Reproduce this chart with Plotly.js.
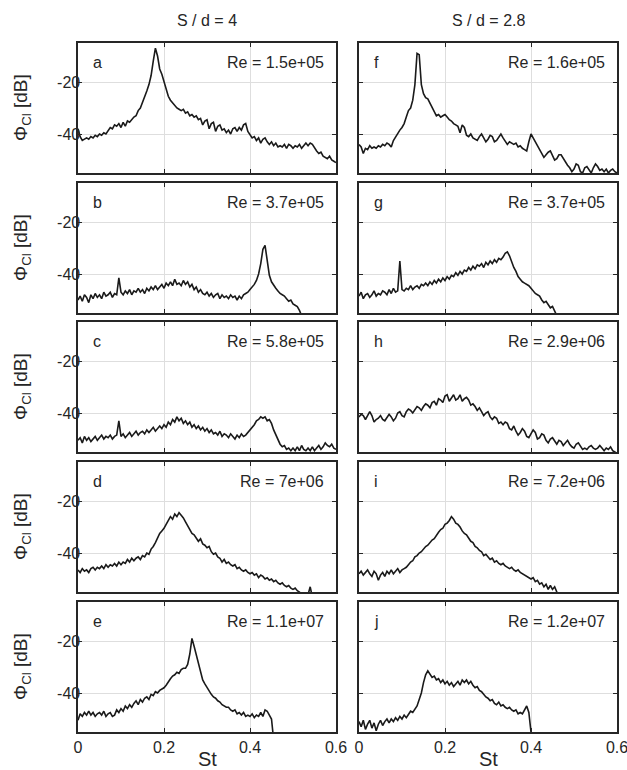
<!DOCTYPE html>
<html>
<head>
<meta charset="utf-8">
<script src="https://cdn.plot.ly/plotly-3.0.1.min.js"></script>
<style>html,body{margin:0;padding:0;background:#fff;}#chart{width:627px;height:770px;}</style>
</head>
<body>
<div id="chart"></div>
<script>
// ---------- DATA ----------
const St = [
 0,0.005,0.01,0.015,0.02,0.025,0.03,0.035,0.04,0.045,
 0.05,0.055,0.06,0.065,0.07,0.075,0.08,0.085,0.09,0.095,
 0.1,0.105,0.11,0.115,0.12,0.125,0.13,0.135,0.14,0.145,
 0.15,0.155,0.16,0.165,0.17,0.175,0.18,0.185,0.19,0.195,
 0.2,0.205,0.21,0.215,0.22,0.225,0.23,0.235,0.24,0.245,
 0.25,0.255,0.26,0.265,0.27,0.275,0.28,0.285,0.29,0.295,
 0.3,0.305,0.31,0.315,0.32,0.325,0.33,0.335,0.34,0.345,
 0.35,0.355,0.36,0.365,0.37,0.375,0.38,0.385,0.39,0.395,
 0.4,0.405,0.41,0.415,0.42,0.425,0.43,0.435,0.44,0.445,
 0.45,0.455,0.46,0.465,0.47,0.475,0.48,0.485,0.49,0.495,
 0.5,0.505,0.51,0.515,0.52,0.525,0.53,0.535,0.54,0.545,
 0.55,0.555,0.56,0.565,0.57,0.575,0.58,0.585,0.59,0.595,0.6
];

// S/d = 4
const phiA = [
 -38,-41,-42.5,-42,-41.5,-42,-41,-41.5,-40.5,-41,
 -40,-40.5,-39.5,-40,-38.5,-37.5,-38,-36.5,-37,-36,
 -37.5,-35.5,-37,-35,-35.5,-34.5,-33.5,-33,-31,-30,
 -28,-25.5,-23.5,-21,-17.5,-12,-7,-10,-15,-17,
 -20,-23,-25.5,-27,-28,-29,-30,-30.5,-31,-30.5,
 -32,-31.5,-33,-32.5,-33.5,-33,-34.5,-34,-36.5,-35,
 -34.5,-38,-36,-35.5,-39,-37,-36.5,-38.5,-38,-39.5,
 -38.5,-40,-38,-37.5,-39,-37.5,-38.5,-36.5,-36,-39,
 -40.5,-41.5,-41,-42.5,-41.5,-43.5,-42,-41.5,-43,-44,
 -43,-44.5,-43.5,-45,-44.5,-45,-44,-45.5,-44,-44.5,
 -45.5,-44.5,-45,-44,-45.5,-44.5,-43.5,-44.5,-43.5,-44,
 -45.5,-46.5,-47.5,-47,-48.5,-49,-49.5,-48.5,-50,-50.5,-51
];
const phiB = [
 -50,-48.5,-50.5,-48,-49,-51,-48,-49.5,-47.5,-49,
 -48,-49.5,-47,-48.5,-48,-47,-49,-47.5,-48,-41.5,
 -47,-48,-46.5,-47.5,-46,-48,-46.5,-47,-45.5,-47,
 -46,-47.5,-45.5,-46.5,-45,-46,-44.5,-46,-45,-44,
 -45.5,-43.5,-44.5,-43,-44.5,-42,-44,-43.5,-44.5,-42.5,
 -44,-43,-45,-44,-46,-45,-47,-46,-47.5,-48,
 -47,-48.5,-47.5,-49,-48,-47.5,-49.5,-48,-49,-48.5,
 -49.5,-48,-49,-48.5,-50,-48.5,-49.5,-48,-47.5,-47,
 -46,-45,-44,-42.5,-40,-36,-30.5,-29,-35,-40.5,
 -43,-44.5,-45.5,-46.5,-47.5,-48,-48.5,-49.5,-50.5,-50,
 -51.5,-52,-52.5,-54,-56
];
const phiC = [
 -50.5,-49.5,-51.5,-49,-50.5,-49.5,-51,-50,-49,-50.5,
 -49.5,-48.5,-50,-49,-49.5,-48.5,-50,-49,-48.5,-43,
 -49,-48,-49.5,-48.5,-47.5,-49,-48,-47,-48.5,-47.5,
 -47,-48,-46.5,-47.5,-46.5,-45.5,-47,-46,-45,-46,
 -44.5,-45.5,-43.5,-44.5,-42.5,-43.5,-41.5,-43,-42,-44,
 -43,-44.5,-43.5,-45.5,-44.5,-46,-45,-46.5,-45.5,-47,
 -46,-47.5,-46.5,-48,-47.5,-48.5,-47,-49,-48,-48.5,
 -49.5,-48,-49,-50,-48.5,-49.5,-48,-49,-48.5,-47.5,
 -46.5,-45.5,-44.5,-43,-42.5,-41.5,-42,-41.5,-43,-42.5,
 -44,-46.5,-48.5,-50,-52,-53,-52.5,-54,-53.5,-54.5,
 -53.5,-54.5,-53,-54.5,-52.5,-54,-54.5,-53.5,-54.5,-53,
 -54.5,-53.5,-52.5,-54,-53,-51.5,-52.5,-53,-52,-53.5,-54
];
const phiD = [
 -46.5,-47.5,-46,-47,-46.5,-47.5,-46,-45.5,-46.5,-45.5,
 -46,-45,-46,-44.5,-45.5,-44.5,-45,-44,-45,-43.5,
 -44.5,-43.5,-44,-42.5,-43.5,-42,-43,-42,-41.5,-42.5,
 -41,-41.5,-40,-40.5,-38.5,-37.5,-36,-34,-32.5,-31.5,
 -30.5,-29,-27.5,-26,-27,-25,-26,-24.5,-25.5,-26.5,
 -28,-29.5,-31,-32.5,-33,-34.5,-35.5,-34.5,-36.5,-37,
 -38,-37.5,-39.5,-40.5,-40,-41.5,-42,-43.5,-42.5,-44,
 -43.5,-44.5,-45,-44.5,-46,-45.5,-46.5,-47,-46.5,-47.5,
 -48,-47.5,-48.5,-48,-49.5,-48.5,-49,-50,-49.5,-50.5,
 -50,-51,-50.5,-51.5,-52,-51.5,-52.5,-53,-52.5,-53.5,
 -54,-53.5,-54.5,-55,-56,-57,-57,-56,-53,-57
];
const phiE = [
 -50.5,-48,-49,-47.5,-48.5,-47,-48.5,-47.5,-49,-48,
 -47.5,-48.5,-47,-49,-48,-47.5,-49,-48.5,-46.5,-47.5,
 -46,-47,-45,-46,-44.5,-45.5,-44,-43,-44.5,-42.5,
 -43.5,-42,-41.5,-42.5,-40.5,-41,-39.5,-40,-39,-38.5,
 -38,-37,-35.5,-34.5,-33.5,-33,-32,-32.5,-31,-30.5,
 -30.5,-29,-25,-19,-22,-25.5,-29,-32,-35,-36.5,
 -38,-39.5,-40.5,-41.5,-42,-43,-43.5,-44.5,-45,-45.5,
 -45.5,-46.5,-47,-46.5,-48,-47.5,-48.5,-47.5,-49,-48.5,
 -49,-48,-49.5,-48.5,-49,-47.5,-49,-46.5,-47,-48.5,
 -50,-58
];

// S/d = 2.8
const phiF = [
 -44,-45,-47.5,-45.5,-46,-44.5,-45.5,-45,-45.5,-44.5,
 -45,-44,-44.5,-43.5,-44,-45,-42.5,-41,-39.5,-38.5,
 -37.5,-36,-33.5,-31,-30,-27,-21,-9,-9.5,-21,
 -24.5,-26,-26.5,-28,-29.5,-31.5,-33,-32.5,-33.5,-33,
 -32.5,-33.5,-34.5,-35,-36,-36.5,-37,-39.5,-36.5,-37.5,
 -40.5,-41,-40,-41.5,-42,-42.5,-41,-40,-41.5,-43,
 -42,-40.5,-41,-43,-42.5,-41,-40,-41.5,-43,-44,
 -43,-43.5,-44,-43.5,-45,-44.5,-45.5,-46,-46.5,-43,
 -40,-41.5,-43,-45,-46.5,-47.5,-49,-48,-47,-46.5,
 -48,-50,-49.5,-48,-48,-49.5,-51,-52,-53,-54.5,
 -53.5,-51.5,-52,-54.5,-55,-53,-52.5,-54,-55,-53,
 -51.5,-52.5,-54,-53.5,-54.5,-53.5,-55,-54,-53.5,-54.5,-55
];
const phiG = [
 -48.5,-47,-49.5,-48,-47.5,-49,-48,-46.5,-48.5,-47.5,
 -48,-46.5,-47,-48,-46,-47.5,-45.5,-47,-46.5,-35,
 -46,-46.5,-45.5,-46,-44.5,-46,-45,-44.5,-45.5,-44,
 -44.5,-43.5,-44.5,-43,-44,-42.5,-43.5,-42,-43,-41.5,
 -42.5,-41,-42,-40.5,-41,-39.5,-40.5,-39,-40,-38.5,
 -39,-37.5,-38.5,-37,-38,-36.5,-37,-36,-37.5,-35.5,
 -36.5,-35,-36,-34.5,-35.5,-34,-34.5,-33.5,-32,-31.5,
 -33,-35.5,-37.5,-39,-41,-42,-43,-43.5,-44,-44.5,
 -45.5,-46.5,-47.5,-48,-48.5,-50,-51,-50.5,-52,-53,
 -52.5,-54,-56
];
const phiH = [
 -41.5,-40.5,-41,-42.5,-41,-39.5,-41,-43.5,-42.5,-42,
 -41,-42.5,-43,-41.5,-40.5,-41.5,-43,-42,-40,-39.5,
 -41,-41.5,-39.5,-38.5,-39,-40,-38.5,-37.5,-38,-39,
 -37.5,-36.5,-37,-38,-36,-35.5,-37,-34.5,-35,-36,
 -33.5,-33,-35.5,-34,-33,-35,-34.5,-33,-35.5,-34.5,
 -34,-35,-37,-36.5,-37.5,-39,-38,-39.5,-41,-40,
 -39.5,-41.5,-42.5,-41.5,-42,-44,-43.5,-44.5,-43.5,-44,
 -46,-46.5,-45,-47,-48.5,-47.5,-46,-47,-49,-49.5,
 -48,-46.5,-47.5,-50,-49.5,-48,-48.5,-50.5,-51.5,-50,
 -49.5,-51,-52,-50.5,-51,-52.5,-51.5,-50.5,-52,-53,
 -53.5,-52,-51.5,-53,-54,-53.5,-54,-53,-52.5,-53.5,
 -54,-53.5,-52.5,-53.5,-54.5,-53.5,-54,-53,-54.5,-55,-55.5
];
const phiI = [
 -48,-47,-48.5,-47.5,-46.5,-48,-49,-47,-48,-50.5,
 -48.5,-47.5,-49,-47,-48,-46.5,-48,-47,-46,-47.5,
 -46.5,-46,-45.5,-44.5,-43.5,-43,-41.5,-41,-40,-39.5,
 -38.5,-37.5,-37,-36,-35,-34.5,-33,-32,-31,-30.5,
 -29,-28.5,-27.5,-26,-27,-28.5,-29,-30,-31.5,-32.5,
 -33,-34.5,-35.5,-36,-37.5,-38,-39,-39.5,-41,-40.5,
 -41.5,-42.5,-42,-43.5,-43,-44,-44.5,-44,-45,-45.5,
 -46,-45.5,-46.5,-47,-46.5,-47.5,-48,-48.5,-49,-49.5,
 -50,-49.5,-51,-50.5,-52,-51.5,-53,-52,-54,-52.5,
 -54,-53,-55,-57
];
const phiJ = [
 -51,-53,-50.5,-54,-52,-50.5,-53.5,-51.5,-54.5,-52,
 -50.5,-52.5,-51,-50,-51.5,-50,-51,-49.5,-50.5,-49,
 -50,-48.5,-49.5,-48,-47,-47.5,-46,-45,-42.5,-40,
 -36,-33,-31.5,-33,-34,-33.5,-35,-34.5,-36,-35,
 -36.5,-35.5,-37,-36,-37.5,-36.5,-35.5,-37,-35,-36,
 -35,-36.5,-35.5,-37,-38,-37.5,-39,-39.5,-40.5,-41.5,
 -42,-43,-42.5,-44,-44.5,-43.5,-45,-44.5,-45.5,-46,
 -45.5,-46.5,-47,-46.5,-48,-47.5,-48,-46.5,-45,-47.5,
 -55,-58
];

const panelSeries  = [phiA, phiB, phiC, phiD, phiE, phiF, phiG, phiH, phiI, phiJ];
const panelLetters = ['a','b','c','d','e','f','g','h','i','j'];
const reLabels     = ['1.5e+05','3.7e+05','5.8e+05','7e+06','1.1e+07',
                      '1.6e+05','3.7e+05','2.9e+06','7.2e+06','1.2e+07'];
const colTitles    = ['S / d = 4', 'S / d = 2.8'];
const xTicks = [0, 0.2, 0.4, 0.6];
const yTicks = [-40, -20];
const xTitle = 'St';
const yTitle = 'Φ<sub>Cl</sub> [dB]';

// ---------- LAYOUT ----------
const W = 627, H = 770;
const colLeft = [78, 359], colW = 258;
const rowTop = [43, 183, 322, 462, 602], rowH = 130;
const FONT = 'Liberation Sans, Arial, Helvetica, sans-serif';
const ink = '#262626';

const layout = {
  width: W, height: H,
  margin: {l: 0, r: 0, t: 0, b: 0},
  paper_bgcolor: '#fff', plot_bgcolor: '#fff',
  showlegend: false,
  font: {family: FONT, color: ink, size: 16},
  annotations: []
};
const traces = [];

for (let p = 0; p < 10; p++) {
  const col = p < 5 ? 0 : 1;
  const row = p % 5;
  const n = p + 1;
  const xn = 'xaxis' + (n > 1 ? n : '');
  const yn = 'yaxis' + (n > 1 ? n : '');
  const xr = 'x' + (n > 1 ? n : '');
  const yr = 'y' + (n > 1 ? n : '');
  const x0 = colLeft[col] / W, x1 = (colLeft[col] + colW) / W;
  const y1 = 1 - rowTop[row] / H, y0 = 1 - (rowTop[row] + rowH) / H;

  layout[xn] = {
    domain: [x0, x1], anchor: yr, range: [0, 0.6],
    tickvals: xTicks, ticktext: xTicks.map(v => String(v)),
    showticklabels: row === 4, ticklabeloverflow: 'allow',
    tickfont: {size: 16, family: FONT, color: ink},
    ticks: 'inside', ticklen: 4, tickwidth: 1, tickcolor: ink,
    showline: true, linewidth: 1.6, linecolor: ink, mirror: 'ticks',
    showgrid: true, gridcolor: '#dedede', gridwidth: 1,
    zeroline: false, fixedrange: true, automargin: false
  };
  layout[yn] = {
    domain: [y0, y1], anchor: xr, range: [-55, -5],
    tickvals: yTicks, ticktext: yTicks.map(v => String(v)),
    showticklabels: col === 0, ticklabelstandoff: -7,
    tickfont: {size: 16, family: FONT, color: ink},
    ticks: 'inside', ticklen: 4, tickwidth: 1, tickcolor: ink,
    showline: true, linewidth: 1.6, linecolor: ink, mirror: 'ticks',
    showgrid: true, gridcolor: '#dedede', gridwidth: 1,
    zeroline: false, fixedrange: true, automargin: false
  };

  const ys = panelSeries[p];
  traces.push({
    type: 'scatter', mode: 'lines',
    x: St.slice(0, ys.length), y: ys,
    xaxis: xr, yaxis: yr,
    line: {color: '#1a1a1a', width: 1.6},
    hoverinfo: 'skip', cliponaxis: true
  });

  layout.annotations.push({
    text: panelLetters[p], xref: xr + ' domain', yref: yr + ' domain',
    x: 0.052, y: 0.85, xanchor: 'left', yanchor: 'middle',
    showarrow: false, font: {size: 16, family: FONT, color: ink}
  });
  layout.annotations.push({
    text: 'Re = ' + reLabels[p], xref: xr + ' domain', yref: yr + ' domain',
    x: 0.962, y: 0.85, xanchor: 'right', yanchor: 'middle',
    showarrow: false, font: {size: 16, family: FONT, color: ink}
  });

  if (col === 0) {
    layout.annotations.push({
      text: yTitle, xref: 'paper', yref: 'paper',
      x: 22 / W, y: 1 - (rowTop[row] + rowH / 2) / H,
      xanchor: 'center', yanchor: 'middle', textangle: -90,
      showarrow: false, font: {size: 19, family: FONT, color: ink}
    });
  }
  if (row === 4) {
    layout.annotations.push({
      text: xTitle, xref: 'paper', yref: 'paper',
      x: (colLeft[col] + colW / 2) / W, y: 1 - 759 / H,
      xanchor: 'center', yanchor: 'middle',
      showarrow: false, font: {size: 20, family: FONT, color: ink}
    });
  }
}

colTitles.forEach((t, c) => {
  layout.annotations.push({
    text: t, xref: 'paper', yref: 'paper',
    x: (colLeft[c] + colW / 2) / W, y: 1 - 21 / H,
    xanchor: 'center', yanchor: 'middle',
    showarrow: false, font: {size: 16, family: FONT, color: ink}
  });
});

Plotly.newPlot('chart', traces, layout, {staticPlot: true, displayModeBar: false});
</script>
</body>
</html>
